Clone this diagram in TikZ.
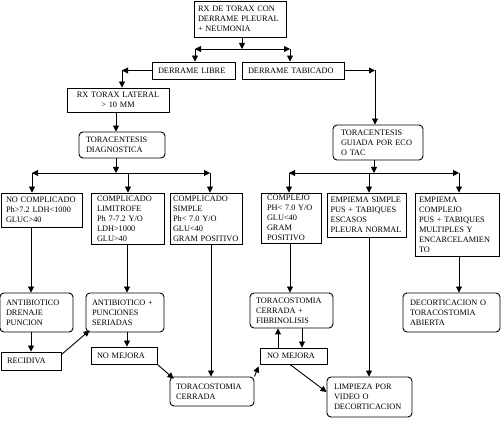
\documentclass[tikz,border=0pt]{standalone}
\usepackage{fontspec}
\setmainfont{Liberation Serif}
\usetikzlibrary{arrows.meta}

\begin{document}
\begin{tikzpicture}[x=1pt,y=-1pt,>={Triangle[length=6pt,width=6pt]},line width=0.9pt,
    box/.style={draw,align=left,font=\fontsize{8.3}{10}\selectfont,inner xsep=6pt,inner ysep=1pt},
    rbox/.style={box,rounded corners=4pt}]
  \useasboundingbox (0,0) rectangle (504,422);
  \node[box,inner xsep=4pt,text width=84pt,minimum height=36pt] (rx) at (240,19) {RX DE TORAX CON\\DERRAME PLEURAL\\+ NEUMONIA};
  \node[box,text width=71pt,minimum height=17pt] (libre) at (193.5,70.5) {DERRAME LIBRE};
  \node[box,text width=90pt,minimum height=17pt] (tab) at (293,70.5) {DERRAME TABICADO};
  \node[box,align=center,inner xsep=5pt,text width=92pt,minimum height=24pt] (lateral) at (118,100) {RX TORAX LATERAL\\> 10 MM};
  \node[rbox,inner xsep=7pt,text width=72pt,minimum height=26pt] (diag) at (122,145) {TORACENTESIS\\DIAGNOSTICA};
  \node[rbox,inner xsep=8pt,text width=74pt,minimum height=35pt] (guiada) at (378,142.5) {TORACENTESIS\\GUIADA POR ECO\\O TAC};
  \node[box,inner xsep=5pt,text width=71pt,minimum height=34pt] (nocomp) at (41.5,210) {NO COMPLICADO\\Ph>7.2 LDH<1000\\GLUC>40};
  \node[box,text width=61pt,minimum height=51pt] (limit) at (127.5,218.5) {COMPLICADO\\LIMITROFE\\Ph 7-7.2 Y/O\\LDH>1000\\GLU>40};
  \node[box,inner xsep=3pt,text width=66pt,minimum height=51pt] (simple) at (206,218.5) {COMPLICADO\\SIMPLE\\Ph< 7.0 Y/O\\GLU<40\\GRAM POSITIVO};
  \node[box,text width=48pt,minimum height=50pt] (complejo) at (291,218) {COMPLEJO\\PH< 7.0 Y/O\\GLU<40\\GRAM\\POSITIVO};
  \node[box,inner xsep=3.5pt,text width=72pt,minimum height=44pt] (esimple) at (366.5,215) {EMPIEMA SIMPLE\\PUS + TABIQUES\\ESCASOS\\PLEURA NORMAL};
  \node[box,inner xsep=4pt,text width=76pt,minimum height=63pt] (ecomplejo) at (457,224.5) {EMPIEMA\\COMPLEJO\\PUS + TABIQUES\\MULTIPLES Y\\ENCARCELAMIEN\\TO};
  \node[rbox,text width=61pt,minimum height=39pt] (antib) at (36.5,312.5) {ANTIBIOTICO\\DRENAJE\\PUNCION};
  \node[rbox,text width=66pt,minimum height=39pt] (punc) at (125,312.5) {ANTIBIOTICO +\\PUNCIONES\\SERIADAS};
  \node[box,text width=48pt,minimum height=18pt] (recid) at (31,361) {RECIDIVA};
  \node[box,text width=54pt,minimum height=17pt] (nomej1) at (124,355.5) {NO MEJORA};
  \node[rbox,text width=72pt,minimum height=29pt] (torac) at (212,391.5) {TORACOSTOMIA\\CERRADA};
  \node[rbox,text width=71pt,minimum height=35pt] (fibr) at (291.5,310.5) {TORACOSTOMIA\\CERRADA +\\FIBRINOLISIS};
  \node[box,inner xsep=7pt,text width=53pt,minimum height=16pt] (nomej2) at (293.5,356) {NO MEJORA};
  \node[rbox,inner xsep=7pt,text width=71pt,minimum height=40pt] (limp) at (369.5,397) {LIMPIEZA POR\\VIDEO O\\DECORTICACION};
  \node[rbox,inner xsep=7pt,text width=83pt,minimum height=39pt] (decort) at (451.5,312.5) {DECORTICACION O\\TORACOSTOMIA\\ABIERTA};

  \coordinate (t0) at (242,49);
  \coordinate (t1) at (195,49);
  \coordinate (t2) at (290,49);
  \draw[->] (rx.south -| t0) -- (t0);
  \draw[<->] (t1) -- (t2);
  \draw[->] (t1) -- (t1 |- libre.north);
  \draw[->] (t2) -- (t2 |- tab.north);
  \coordinate (l1) at (122,70.5);
  \draw[->] (libre) -- (l1);
  \draw[->] (l1) -- (l1 |- lateral.north);
  \coordinate (r1) at (375,70.5);
  \draw[->] (tab) -- (r1);
  \draw[->] (r1) -- (r1 |- guiada.north);
  \draw[->] (lateral.south -| 116,0) -- (diag.north -| 116,0);

  \coordinate (b0) at (116,173);
  \coordinate (b1) at (32,173);
  \coordinate (b2) at (128,173);
  \coordinate (b3) at (210,173);
  \draw[->] (diag.south -| b0) -- (b0);
  \draw[<->] (b1) -- (b3);
  \coordinate (g0) at (374,173);
  \coordinate (g1) at (289,173);
  \coordinate (g2) at (369,173);
  \coordinate (g3) at (459,173);
  \draw[->] (guiada.south -| g0) -- (g0);
  \draw[<->] (g1) -- (g3);
  \foreach \c/\n in {b1/nocomp,b2/limit,b3/simple,g1/complejo,g2/esimple,g3/ecomplejo}
    \draw[->] (\c) -- (\c |- \n.north);

  \foreach \s/\d/\x in {nocomp/antib/31,limit/punc/127,simple/torac/211,complejo/fibr/290,esimple/limp/369,ecomplejo/decort/459,antib/recid/31,punc/nomej1/127,fibr/nomej2/302}
    \draw[->] (\s.south -| \x,0) -- (\d.north -| \x,0);
  \draw[->] (nomej2.north -| 278,0) -- (fibr.south -| 278,0);
  \draw[->] ([yshift=-3pt]recid.north east) -- ([xshift=4pt,yshift=2pt]punc.south west);
  \draw[->] (nomej1.south east) -- ([xshift=4pt,yshift=-2pt]torac.north west);
  \draw[->] (torac.north east) -- ([xshift=-1pt,yshift=-2pt]nomej2.south west);
  \draw[->] (nomej2.south -| 290,0) -- ([yshift=5pt]limp.west);
\end{tikzpicture}
\end{document}
